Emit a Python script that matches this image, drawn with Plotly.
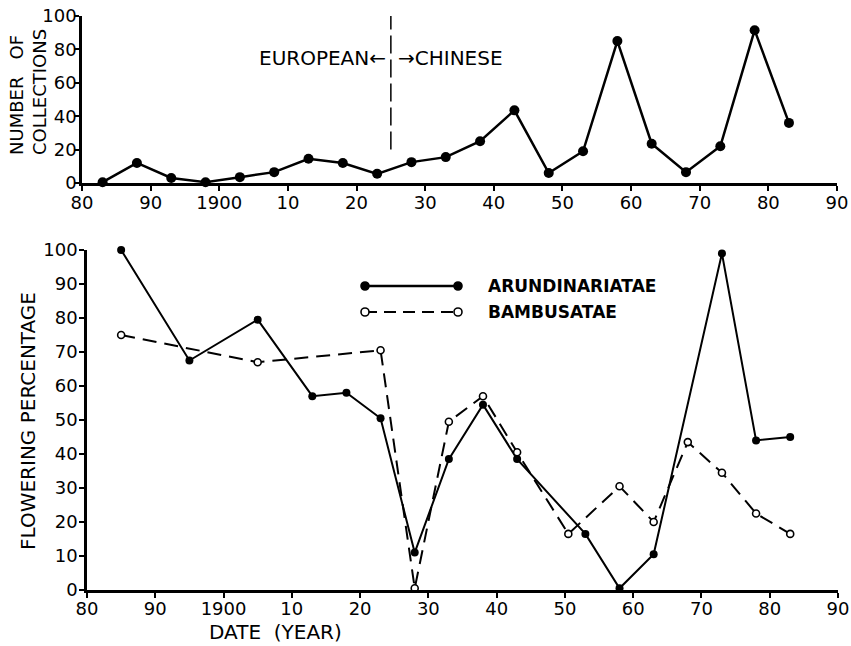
import plotly.graph_objects as go

# ---------------- data ----------------
top_years = [1883, 1888, 1893, 1898, 1903, 1908, 1913, 1918, 1923, 1928, 1933,
             1938, 1943, 1948, 1953, 1958, 1963, 1968, 1973, 1978, 1983]
top_counts = [0.5, 12, 3, 0.5, 3.5, 6.5, 14.5, 12, 5.5, 12.5, 15.5,
              25, 43.5, 6, 19, 85, 23.5, 6.5, 22, 91.5, 36]

arund_years = [1885, 1895, 1905, 1913, 1918, 1923, 1928, 1933, 1938, 1943,
               1953, 1958, 1963, 1973, 1978, 1983]
arund_pct = [100, 67.5, 79.5, 57, 58, 50.5, 11, 38.5, 54.5, 38.5,
             16.5, 0.5, 10.5, 99, 44, 45]

bamb_years = [1885, 1905, 1923, 1928, 1933, 1938, 1943, 1950.5, 1958, 1963,
              1968, 1973, 1978, 1983]
bamb_pct = [75, 67, 70.5, 0.5, 49.5, 57, 40.5, 16.5, 30.5, 20,
            43.5, 34.5, 22.5, 16.5]

x_tickvals = [1880, 1890, 1900, 1910, 1920, 1930, 1940, 1950, 1960, 1970, 1980, 1990]
x_ticktext = ["80", "90", "1900", "10", "20", "30", "40", "50", "60", "70", "80", "90"]
top_yticks = [0, 20, 40, 60, 80, 100]
bot_yticks = [0, 10, 20, 30, 40, 50, 60, 70, 80, 90, 100]
divide_year = 1925

# ---------------- figure ----------------
W, H = 851, 646
FONT = "DejaVu Sans"
fig = go.Figure()

fig.add_trace(go.Scatter(
    x=top_years, y=top_counts, mode="lines+markers", xaxis="x", yaxis="y",
    line=dict(color="black", width=2.5),
    marker=dict(color="black", size=10), cliponaxis=False, showlegend=False))

fig.add_trace(go.Scatter(
    x=arund_years, y=arund_pct, mode="lines+markers", xaxis="x2", yaxis="y2",
    line=dict(color="black", width=2),
    marker=dict(color="black", size=8), cliponaxis=False, showlegend=False))

fig.add_trace(go.Scatter(
    x=bamb_years, y=bamb_pct, mode="lines+markers", xaxis="x2", yaxis="y2",
    line=dict(color="black", width=2, dash="14px,8px"),
    marker=dict(color="white", size=7, line=dict(color="black", width=1.6)),
    cliponaxis=False, showlegend=False))


def axis_style(standoff):
    return dict(
        showgrid=False, zeroline=False, showline=True, linecolor="black", linewidth=2.5,
        ticks="outside", ticklen=5, tickwidth=2, tickcolor="black",
        ticklabelstandoff=standoff,
        tickfont=dict(family=FONT, size=18, color="black"), automargin=False)


fig.update_layout(
    width=W, height=H, margin=dict(l=0, r=0, t=0, b=0),
    paper_bgcolor="white", plot_bgcolor="white",
    xaxis=dict(domain=[82 / W, 837 / W], range=[1880, 1990], anchor="y",
               tickvals=x_tickvals, ticktext=x_ticktext, **axis_style(-3)),
    yaxis=dict(domain=[1 - 183 / H, 1 - 16 / H], range=[0, 100], anchor="x",
               tickvals=top_yticks, **axis_style(-6)),
    xaxis2=dict(domain=[87 / W, 838 / W], range=[1880, 1990], anchor="y2",
                tickvals=x_tickvals, ticktext=x_ticktext, **axis_style(-4)),
    yaxis2=dict(domain=[1 - 590 / H, 1 - 250 / H], range=[0, 100], anchor="x2",
                tickvals=bot_yticks, **axis_style(-2)),
)

# vertical dashed divider in the top panel
fig.add_shape(type="line", xref="x", yref="y", x0=divide_year, x1=divide_year,
              y0=20, y1=100, line=dict(color="black", width=1.5, dash="18px,6px"))

ann_font = dict(family=FONT, size=20, color="black")
fig.add_annotation(xref="paper", yref="paper", x=388 / W, y=1 - 58 / H,
                   text="EUROPEAN\u2190", showarrow=False, xanchor="right",
                   yanchor="middle", font=ann_font)
fig.add_annotation(xref="paper", yref="paper", x=396 / W, y=1 - 58 / H,
                   text="\u2192CHINESE", showarrow=False, xanchor="left",
                   yanchor="middle", font=ann_font)

# axis titles
fig.add_annotation(xref="paper", yref="paper", x=28 / W, y=1 - 92 / H,
                   text="NUMBER   OF<br>COLLECTIONS", showarrow=False, textangle=-90,
                   xanchor="center", yanchor="middle", align="left",
                   font=dict(family=FONT, size=18, color="black"))
fig.add_annotation(xref="paper", yref="paper", x=28 / W, y=1 - 421 / H,
                   text="FLOWERING PERCENTAGE", showarrow=False, textangle=-90,
                   xanchor="center", yanchor="middle",
                   font=dict(family=FONT, size=20, color="black"))
fig.add_annotation(xref="paper", yref="paper", x=275 / W, y=1 - 632 / H,
                   text="DATE  (YEAR)", showarrow=False,
                   xanchor="center", yanchor="middle",
                   font=dict(family=FONT, size=20, color="black"))

# legend drawn as decoration
leg = [("ARUNDINARIATAE", 286, "solid", "black"),
       ("BAMBUSATAE", 312, "12px,7px", "white")]
for name, py, dash, fill in leg:
    yp = 1 - py / H
    fig.add_shape(type="line", xref="paper", yref="paper",
                  x0=365 / W, x1=458 / W, y0=yp, y1=yp,
                  line=dict(color="black", width=2.5 if dash == "solid" else 2, dash=dash))
    for px in (365, 458):
        fig.add_shape(type="circle", xref="paper", yref="paper",
                      xsizemode="pixel", ysizemode="pixel",
                      xanchor=px / W, yanchor=yp,
                      x0=-4, x1=4, y0=-4, y1=4,
                      fillcolor=fill, line=dict(color="black", width=1.6))
    fig.add_annotation(xref="paper", yref="paper", x=486 / W, y=yp,
                       text="<b>%s</b>" % name, showarrow=False,
                       xanchor="left", yanchor="middle",
                       font=dict(family=FONT, size=17, color="black"))

fig.write_html("out.html",
               config={"displayModeBar": False},
               post_script="document.body.style.margin='0';"
                           "document.body.style.overflow='hidden';")
